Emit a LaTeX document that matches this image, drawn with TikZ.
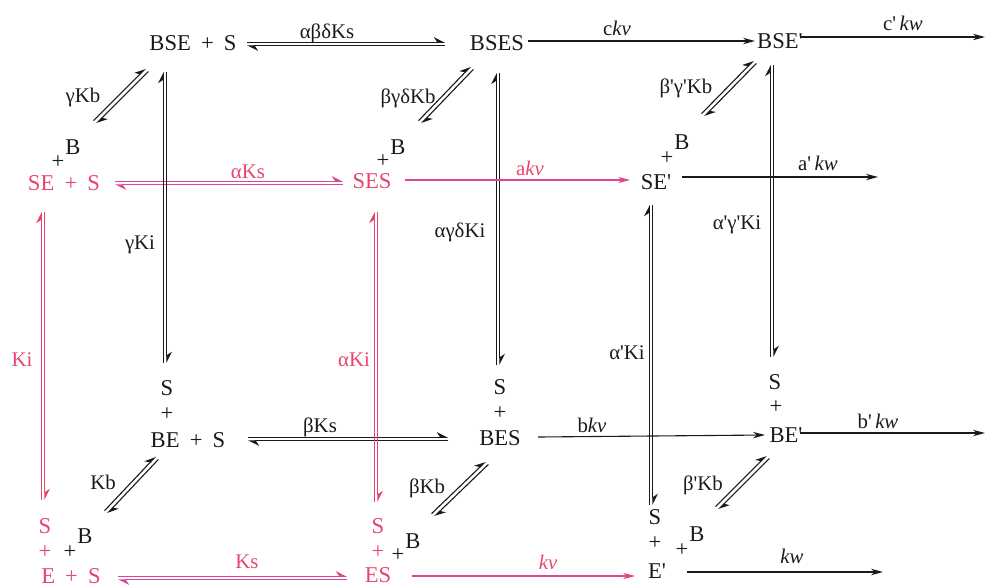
\documentclass[tikz,border=0pt]{standalone}
\usepackage{fontspec}
\setmainfont{Liberation Serif}
\usepackage{tikz}
\usetikzlibrary{arrows.meta,positioning,calc}
\definecolor{KinRed}{HTML}{E8456E}
\definecolor{KinMagenta}{HTML}{DE4592}
\definecolor{KinBlack}{HTML}{1A1A1A}
\tikzset{
    % Species (enzyme complexes)
    species/.style={
        inner sep=0pt,
        text height=7.6pt,
        text depth=0pt,
        font=\fontsize{11.3}{13}\selectfont,
        text=KinBlack
    },
    % Species on the red path
    redspecies/.style={
        species,
        text=KinRed
    },
    % Rate constant labels
    ratelabel/.style={
        inner sep=0pt,
        font=\fontsize{10.4}{12}\selectfont,
        text=KinBlack
    },
    % Red rate constant labels
    redlabel/.style={
        ratelabel,
        text=KinRed
    },
    % Half of an equilibrium arrow
    harpline/.style={
        -{Stealth[harpoon,length=5pt,width=5pt]},
        line width=0.55pt,
        draw=KinBlack
    },
    % One-way arrow
    onearrow/.style={
        -{Stealth[length=6pt,width=3.2pt]},
        line width=0.55pt,
        draw=KinBlack
    }
}
\newcommand{\spplus}{\hspace{0.45em}+\hspace{0.45em}}
\newcommand{\pri}{\textquotesingle}
% equilibrium: two harpoons, offsets #2 and #3, from #4 to #5
\newcommand{\eqpair}[5][]{%
    \draw[harpline,#1,transform canvas={shift={#2}}] #4 -- #5;
    \draw[harpline,#1,transform canvas={shift={#3}}] #5 -- #4;}

\begin{document}
\begin{tikzpicture}[x=0.5pt,y=-0.5pt]
    \useasboundingbox (0,0) rectangle (987,586);
    % species
    \node[species] (bsep) at (193,43) {BSE\spplus S};
    \node[species] (bses) at (497,43) {BSES};
    \node[species] (bsepr) at (780,41) {BSE\pri};
    \node[redspecies] (sep) at (64,183) {SE\spplus S};
    \node[redspecies] (ses) at (372,181) {SES};
    \node[species] (sepr) at (656,182) {SE\pri};
    \node[species] (bep) at (188,440) {BE\spplus S};
    \node[species] (bes) at (500,438) {BES};
    \node[species] (bepr) at (786,435) {BE\pri};
    \node[redspecies] (ep) at (71,576) {E\textcolor{KinMagenta}{\spplus}S};
    \node[redspecies] (es) at (378,575) {ES};
    \node[species] (epr) at (657,571) {E\pri};
    % stacked S +
    \node[species] (bepS) at (167,388) {S};
    \node[species] (bepP) at (167,413) {+};
    \node[species] (besS) at (500,387) {S};
    \node[species] (besP) at (500,412) {+};
    \node[species] (beprS) at (775,382) {S};
    \node[species] (beprP) at (776,406) {+};
    \node[redspecies] (epS) at (45,526) {S};
    \node[redspecies] (epP) at (45,551) {+};
    \node[redspecies] (esS) at (378,526) {S};
    \node[redspecies] (esP) at (378,551) {+};
    \node[species] (eprS) at (655,517) {S};
    \node[species] (eprP) at (655,542) {+};
    % + B
    \node[species] (sepP) at (58,161) {+};
    \node[species] (sepB) at (73,147) {B};
    \node[species] (sesP) at (383,160) {+};
    \node[species] (sesB) at (398,147) {B};
    \node[species] (seprP) at (667,157) {+};
    \node[species] (seprB) at (682,142) {B};
    \node[species] (epPB) at (70,551) {+};
    \node[species] (epB) at (85,536) {B};
    \node[species] (esPB) at (398,554) {+};
    \node[species] (esB) at (413,541) {B};
    \node[species] (eprPB) at (682,549) {+};
    \node[species] (eprB) at (697,534) {B};
    % free ends
    \coordinate (cEnd) at (985,37);
    \coordinate (aEnd) at (878,177);
    \coordinate (bEnd) at (985,433);
    \coordinate (kEnd) at (883,572);

    % horizontal equilibria
    \eqpair{(0pt,0.9pt)}{(0pt,-0.9pt)}{([shift={(54,1)}]bsep.center)}{([shift={(-52,1)}]bses.center)}
    \eqpair[draw=KinMagenta]{(0pt,0.9pt)}{(0pt,-0.9pt)}{([shift={(51,0)}]sep.center)}{([shift={(-29,2)}]ses.center)}
    \eqpair{(0pt,0.9pt)}{(0pt,-0.9pt)}{([shift={(60,-1)}]bep.center)}{([shift={(-52,1)}]bes.center)}
    \eqpair[draw=KinMagenta]{(0pt,0.9pt)}{(0pt,-0.9pt)}{([shift={(47,2)}]ep.center)}{([shift={(-31,3)}]es.center)}
    % vertical equilibria
    \eqpair{(-0.9pt,0pt)}{(0.9pt,0pt)}{([shift={(-2,-25)}]bepS.center)}{([shift={(-28,29)}]bsep.center)}
    \eqpair{(-0.9pt,0pt)}{(0.9pt,0pt)}{([shift={(-2,-22)}]besS.center)}{([shift={(1,30)}]bses.center)}
    \eqpair{(-0.9pt,0pt)}{(0.9pt,0pt)}{([shift={(-3,-25)}]beprS.center)}{([shift={(-8,24)}]bsepr.center)}
    \eqpair[draw=KinRed]{(-0.9pt,0pt)}{(0.9pt,0pt)}{([shift={(-2,-26)}]epS.center)}{([shift={(-21,29)}]sep.center)}
    \eqpair[draw=KinRed]{(-0.9pt,0pt)}{(0.9pt,0pt)}{([shift={(-2,-24)}]esS.center)}{([shift={(4,31)}]ses.center)}
    \eqpair{(-0.9pt,0pt)}{(0.9pt,0pt)}{([shift={(-4,-12)}]eprS.center)}{([shift={(-5,23)}]sepr.center)}
    % diagonal equilibria (B binding)
    \eqpair{(-0.7pt,0.7pt)}{(0.7pt,-0.7pt)}{([shift={(22,-25)}]sepB.center)}{([shift={(-46,27)}]bsep.center)}
    \eqpair{(-0.7pt,0.7pt)}{(0.7pt,-0.7pt)}{([shift={(22,-25)}]sesB.center)}{([shift={(-25,25)}]bses.center)}
    \eqpair{(-0.7pt,0.7pt)}{(0.7pt,-0.7pt)}{([shift={(21,-27)}]seprB.center)}{([shift={(-25,21)}]bsepr.center)}
    \eqpair{(-0.7pt,0.7pt)}{(0.7pt,-0.7pt)}{([shift={(21,-24)}]epB.center)}{([shift={(-31,18)}]bep.center)}
    \eqpair{(-0.7pt,0.7pt)}{(0.7pt,-0.7pt)}{([shift={(20,-26)}]esB.center)}{([shift={(-13,25)}]bes.center)}
    \eqpair{(-0.7pt,0.7pt)}{(0.7pt,-0.7pt)}{([shift={(20,-26)}]eprB.center)}{([shift={(-18,22)}]bepr.center)}

    % product steps
    \draw[onearrow] ([shift={(31,-2)}]bses.center) -- ([shift={(-25,0)}]bsepr.center);
    \draw[onearrow] ([shift={(20,-4)}]bsepr.center) -- (cEnd);
    \draw[onearrow,draw=KinMagenta] ([shift={(33,-1)}]ses.center) -- ([shift={(-26,-2)}]sepr.center);
    \draw[onearrow] ([shift={(26,-5)}]sepr.center) -- (aEnd);
    \draw[onearrow] ([shift={(38,-1)}]bes.center) -- ([shift={(-21,0)}]bepr.center);
    \draw[onearrow] ([shift={(14,-2)}]bepr.center) -- (bEnd);
    \draw[onearrow,draw=KinMagenta] ([shift={(34,1)}]es.center) -- ([shift={(-22,5)}]epr.center);
    \draw[onearrow] ([shift={(30,1)}]epr.center) -- (kEnd);

    % rate constants
    \node[ratelabel] (kabdKs) at (327,33) {αβδKs};
    \node[redlabel] (kaKs) at (248,172) {αKs};
    \node[ratelabel] (kbKs) at (320,427) {βKs};
    \node[redlabel] (kKs) at (247,562) {Ks};
    \node[ratelabel] (kckv) at (617,28) {c\textit{kv}};
    \node[ratelabel] (kckw) at (903,23) {c\pri\,\textit{kw}};
    \node[redlabel] (kakv) at (530,168) {a\textit{kv}};
    \node[ratelabel] (kakw) at (818,163) {a\pri\,\textit{kw}};
    \node[ratelabel] (kbkv) at (592,425) {b\textit{kv}};
    \node[ratelabel] (kbkw) at (878,421) {b\pri\,\textit{kw}};
    \node[redlabel] (kkv) at (548,562) {\textit{kv}};
    \node[ratelabel] (kkw) at (792,556) {\textit{kw}};
    \node[ratelabel] (kgKi) at (140,245) {γKi};
    \node[ratelabel] (kagdKi) at (460,232) {αγδKi};
    \node[ratelabel] (kagKip) at (737,225) {α\pri γ\pri Ki};
    \node[redlabel] (kKi) at (22,360) {Ki};
    \node[redlabel] (kaKi) at (354,360) {αKi};
    \node[ratelabel] (kaKip) at (627,353) {α\pri Ki};
    \node[ratelabel] (kgKb) at (83,97) {γKb};
    \node[ratelabel] (kbgdKb) at (408,98) {βγδKb};
    \node[ratelabel] (kbgKbp) at (686,88) {β\pri γ\pri Kb};
    \node[ratelabel] (kKb) at (103,482) {Kb};
    \node[ratelabel] (kbKb) at (427,488) {βKb};
    \node[ratelabel] (kbKbp) at (703,485) {β\pri Kb};
\end{tikzpicture}
\end{document}
